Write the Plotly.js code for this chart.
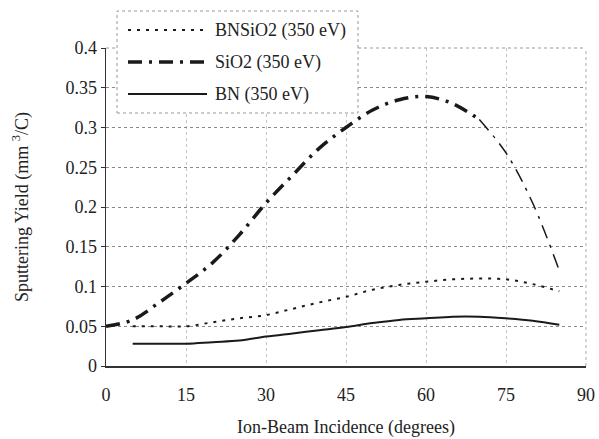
<!DOCTYPE html>
<html><head><meta charset="utf-8">
<script src="https://cdn.plot.ly/plotly-3.0.1.min.js"></script>
<style>body{margin:0;background:#fff}#c{width:599px;height:439px}</style>
</head><body><div id="c"></div>
<script>
const angleSiO2 = [0,5,10,15,20,25,30,35,40,45,50,55,60,65,70,75,80,85];
const ySiO2 = [0.050,0.058,0.080,0.104,0.130,0.165,0.205,0.240,0.274,0.300,0.322,0.335,0.339,0.330,0.310,0.268,0.205,0.120];
const angleOther = [5,10,15,20,25,30,35,40,45,50,55,60,65,70,75,80,85];
const yBNSiO2 = [0.050,0.050,0.050,0.055,0.060,0.064,0.072,0.080,0.087,0.096,0.102,0.106,0.109,0.110,0.109,0.103,0.094];
const yBN = [0.028,0.028,0.028,0.030,0.032,0.037,0.041,0.045,0.049,0.054,0.058,0.060,0.062,0.062,0.060,0.057,0.052];
const names = ["BNSiO2 (350 eV)","SiO2 (350 eV)","BN (350 eV)"];
const xTicks = [0,15,30,45,60,75,90];
const yTicks = [0,0.05,0.1,0.15,0.2,0.25,0.3,0.35,0.4];
const yTickText = ['0','0.05','0.1','0.15','0.2','0.25','0.3','0.35','0.4'];

const FF = 'Liberation Serif, Times New Roman, serif';
const ink = '#1a1a1a';
const dashBNSiO2 = '3px,6px';
const dashSiO2 = '14px,7px,3px,7px';

const split = 14; // index of 70 deg: line thins beyond this
const traces = [
  {x: angleOther, y: yBNSiO2, name: names[0], mode:'lines', line:{color:ink, width:2, dash:dashBNSiO2, shape:'spline'}},
  {x: angleSiO2.slice(0, split+1), y: ySiO2.slice(0, split+1), name: names[1], mode:'lines', line:{color:ink, width:3.5, dash:dashSiO2, shape:'spline'}},
  {x: angleSiO2.slice(split), y: ySiO2.slice(split), name: names[1], mode:'lines', line:{color:ink, width:1.5, dash:dashSiO2, shape:'spline'}},
  {x: angleOther, y: yBN, name: names[2], mode:'lines', line:{color:ink, width:2, shape:'spline'}}
];

// legend drawn as a boxed key in paper coordinates
const px = v => (v - 106) / 480, py = v => (366 - v) / 318;
const rowsY = [30, 62, 94];
const legendDash = [dashBNSiO2, dashSiO2, 'solid'];
const legendWidth = [2, 3.5, 2];
const shapes = [
  {type:'line', xref:'paper', yref:'paper', x0:1, x1:1, y0:0, y1:1, line:{color:'#aaa', width:1, dash:'dot'}},
  {type:'line', xref:'paper', yref:'paper', x0:0, x1:1, y0:1, y1:1, line:{color:'#999', width:1, dash:'dot'}},
  {type:'rect', xref:'paper', yref:'paper', layer:'above', x0:px(117), x1:px(358), y0:py(113), y1:py(11), fillcolor:'#fff', line:{color:'#999', width:1, dash:'dot'}}
];
const annotations = [];
names.forEach((n, i) => {
  shapes.push({type:'line', xref:'paper', yref:'paper', layer:'above', x0:px(128), x1:px(207), y0:py(rowsY[i]), y1:py(rowsY[i]),
    line:{color:ink, width:legendWidth[i], dash:legendDash[i]}});
  annotations.push({xref:'paper', yref:'paper', x:px(213), y:py(rowsY[i]), xanchor:'left', yanchor:'middle', showarrow:false,
    text:n, font:{family:FF, size:18, color:'#222'}});
});

const layout = {
  width:599, height:439,
  margin:{l:106, r:13, t:48, b:73},
  paper_bgcolor:'#fff', plot_bgcolor:'#fff',
  font:{family:FF, color:'#222', size:18},
  showlegend:false,
  xaxis:{range:[0,90], tickvals:xTicks, ticktext:xTicks.map(String), showgrid:true, gridcolor:'#c4c4c4', griddash:'dot', gridwidth:1,
    zeroline:false, showline:true, linecolor:'#333', linewidth:1.5, ticks:'', ticklabelstandoff:12,
    tickfont:{family:FF, size:18, color:'#222'},
    title:{text:'Ion-Beam Incidence (degrees)', font:{family:FF, size:18, color:'#222'}, standoff:16}},
  yaxis:{range:[0,0.4], tickvals:yTicks, ticktext:yTickText, showgrid:true, gridcolor:'#8a8a8a', griddash:'dot', gridwidth:1,
    zeroline:false, showline:true, linecolor:'#333', linewidth:1.5, ticks:'outside', ticklen:4, tickcolor:'#333',
    tickfont:{family:FF, size:18, color:'#222'},
    title:{text:'Sputtering Yield (mm <sup>3</sup>/C)', font:{family:FF, size:18, color:'#222'}, standoff:32}},
  shapes: shapes,
  annotations: annotations
};
Plotly.newPlot('c', traces, layout, {displayModeBar:false, staticPlot:true});
</script></body></html>
